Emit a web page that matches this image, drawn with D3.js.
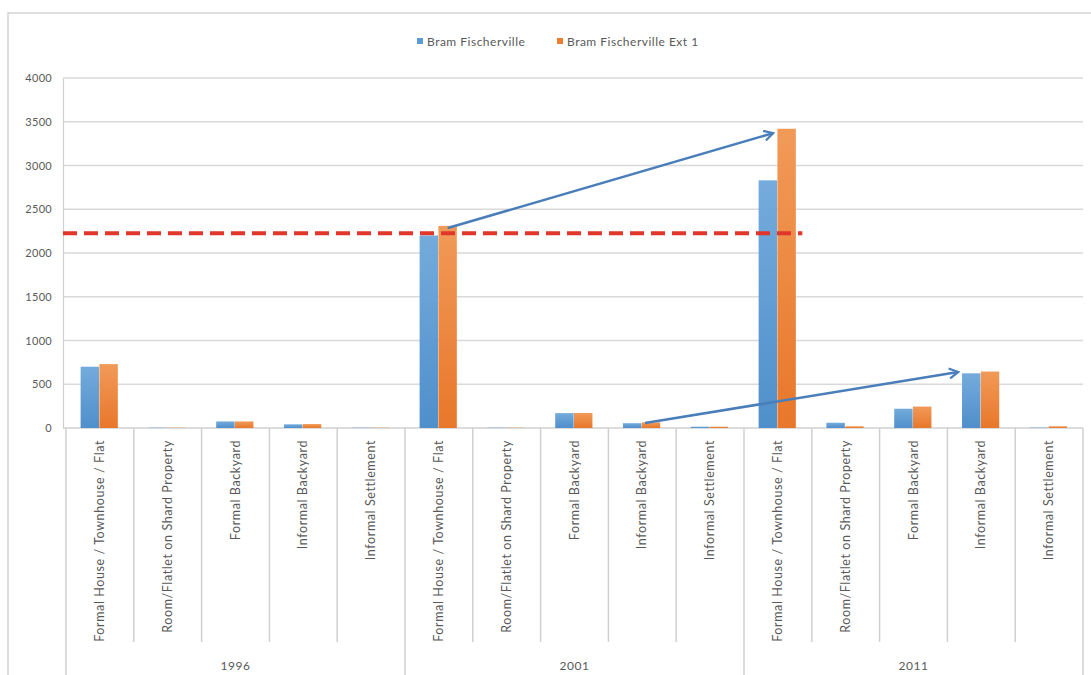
<!DOCTYPE html>
<html>
<head>
<meta charset="utf-8">
<script src="https://cdn.jsdelivr.net/npm/d3@7"></script>
<style>
  html, body { margin: 0; padding: 0; background: #fff; }
  svg { display: block; }
  text { font-family: Lato, "Open Sans", sans-serif; fill: #595959; }
</style>
</head>
<body>
<svg id="chart" width="1091" height="675"></svg>
<script>
// ---- Data ----
const years = ["1996", "2001", "2011"];
const types = [
  "Formal House / Townhouse / Flat",
  "Room/Flatlet on Shard Property",
  "Formal Backyard",
  "Informal Backyard",
  "Informal Settlement"
];
const seriesNames = ["Bram Fischerville", "Bram Fischerville Ext 1"];
const bramFischerville    = [700, 4, 75, 42, 4,  2200, 4, 170, 55, 15,  2830, 60, 220, 625, 5];
const bramFischervilleExt1 = [730, 4, 75, 45, 4,  2310, 4, 172, 65, 15,  3420, 20, 245, 645, 20];
const yTicks = [0, 500, 1000, 1500, 2000, 2500, 3000, 3500, 4000];
const thresholdValue = 2225;
// annotation arrows: [category index, fraction within band, value]
const arrowStarts = [[5, 0.63, 2285], [8, 0.54, 57]];
const arrowEnds   = [[10, 0.43, 3370], [13, 0.16, 640]];
const thresholdEnd = [10, 0.86];

(function () {
// ---- Layout ----
const svg = d3.select("#chart");
const pLeft = 66, pRight = 1083, pTop = 78, pBottom = 428;
const colors = ["#5b9bd5", "#ed7d31"];

const cats = [];
years.forEach(yr => types.forEach(t => cats.push({ year: yr, type: t, key: yr + "|" + t })));

const x = d3.scaleBand().domain(cats.map(c => c.key)).range([pLeft, pRight]).padding(0);
const bw = x.bandwidth();
const x1 = d3.scaleBand().domain(seriesNames).range([bw * 0.21, bw * 0.77]).padding(0.02);
const y = d3.scaleLinear().domain([0, 4000]).range([pBottom, pTop]);

// gradients
const defs = svg.append("defs");
const grads = [["#74abdc", "#4f8fcb"], ["#f19a58", "#e8772a"]];
grads.forEach((g, i) => {
  const lg = defs.append("linearGradient").attr("id", "g" + i)
    .attr("x1", 0).attr("y1", 0).attr("x2", 0).attr("y2", 1);
  lg.append("stop").attr("offset", "0%").attr("stop-color", g[0]);
  lg.append("stop").attr("offset", "100%").attr("stop-color", g[1]);
});
const mk = defs.append("marker").attr("id", "arrow")
  .attr("viewBox", "0 0 12 12").attr("refX", 10).attr("refY", 6)
  .attr("markerWidth", 12).attr("markerHeight", 12).attr("markerUnits", "userSpaceOnUse")
  .attr("orient", "auto");
mk.append("path").attr("d", "M1,1 L10,6 L1,11").attr("fill", "none")
  .attr("stroke", "#4a7ebb").attr("stroke-width", 2.2).attr("stroke-linejoin", "miter");

// outer frame
svg.append("rect").attr("x", 8).attr("y", 13).attr("width", 1200).attr("height", 800)
  .attr("fill", "none").attr("stroke", "#d4d4d4").attr("stroke-width", 1.5);

// gridlines
svg.append("g").selectAll("line").data(yTicks.filter(d => d > 0)).join("line")
  .attr("x1", pLeft - 3).attr("x2", pRight)
  .attr("y1", d => y(d)).attr("y2", d => y(d))
  .attr("stroke", "#d9d9d9").attr("stroke-width", 1.5);

// y axis
const yAxis = svg.append("g").attr("transform", `translate(${pLeft - 3},0)`)
  .call(d3.axisLeft(y).tickValues(yTicks).tickFormat(d3.format("d")).tickSize(0).tickPadding(11));
yAxis.select(".domain").attr("stroke", "#d0d0d0").attr("stroke-width", 1.2);
yAxis.selectAll("text").attr("font-size", "11px").attr("fill", "#595959")
  .attr("letter-spacing", "0.3px")
  .style("font-family", "Lato, sans-serif");

// baseline
svg.append("line").attr("x1", pLeft - 3).attr("x2", pRight).attr("y1", pBottom).attr("y2", pBottom)
  .attr("stroke", "#d0d0d0").attr("stroke-width", 1.5);

// bars
const series = [bramFischerville, bramFischervilleExt1];
series.forEach((vals, si) => {
  svg.append("g").selectAll("rect").data(cats).join("rect")
    .attr("x", c => x(c.key) + x1(seriesNames[si]))
    .attr("width", x1.bandwidth())
    .attr("y", (c, i) => y(vals[i]))
    .attr("height", (c, i) => pBottom - y(vals[i]))
    .attr("fill", `url(#g${si})`);
});

// category separators
const sepG = svg.append("g");
cats.forEach((c, i) => {
  const xx = x(c.key);
  const isGroup = i % types.length === 0;
  sepG.append("line").attr("x1", xx).attr("x2", xx)
    .attr("y1", pBottom).attr("y2", isGroup ? 680 : 642)
    .attr("stroke", "#d0d0d0").attr("stroke-width", 1.5);
});
sepG.append("line").attr("x1", pRight).attr("x2", pRight).attr("y1", pBottom).attr("y2", 680)
  .attr("stroke", "#d0d0d0").attr("stroke-width", 1.5);

// category labels (rotated)
svg.append("g").selectAll("text").data(cats).join("text")
  .attr("transform", c => `translate(${x(c.key) + bw / 2 + 4},440) rotate(-90)`)
  .attr("text-anchor", "end")
  .attr("font-size", "12.5px")
  .attr("letter-spacing", "0.6px")
  .text(c => c.type);

// year labels
svg.append("g").selectAll("text").data(years).join("text")
  .attr("x", yr => {
    const ks = cats.filter(c => c.year === yr);
    return (x(ks[0].key) + x(ks[ks.length - 1].key) + bw) / 2;
  })
  .attr("y", 670)
  .attr("text-anchor", "middle").attr("font-size", "12px")
  .attr("letter-spacing", "0.5px")
  .text(d => d);

// threshold dashed line
svg.append("line")
  .attr("x1", pLeft - 3)
  .attr("x2", x(cats[thresholdEnd[0]].key) + bw * thresholdEnd[1])
  .attr("y1", y(thresholdValue)).attr("y2", y(thresholdValue))
  .attr("stroke", "#e0362b").attr("stroke-width", 4).attr("stroke-dasharray", "14,7");

// arrows
arrowStarts.forEach((s, i) => {
  const e = arrowEnds[i];
  svg.append("line")
    .attr("x1", x(cats[s[0]].key) + bw * s[1]).attr("y1", y(s[2]))
    .attr("x2", x(cats[e[0]].key) + bw * e[1]).attr("y2", y(e[2]))
    .attr("stroke", "#4a7ebb").attr("stroke-width", 2.5)
    .attr("marker-end", "url(#arrow)");
});

// legend
const legend = svg.append("g");
const legendX = [417, 557];
seriesNames.forEach((n, i) => {
  legend.append("rect").attr("x", legendX[i]).attr("y", 38).attr("width", 6).attr("height", 6)
    .attr("fill", colors[i]);
  legend.append("text").attr("x", legendX[i] + 10).attr("y", 45.5)
    .attr("font-size", "12px").attr("letter-spacing", "0.5px").text(n);
});
})();
</script>
</body>
</html>
